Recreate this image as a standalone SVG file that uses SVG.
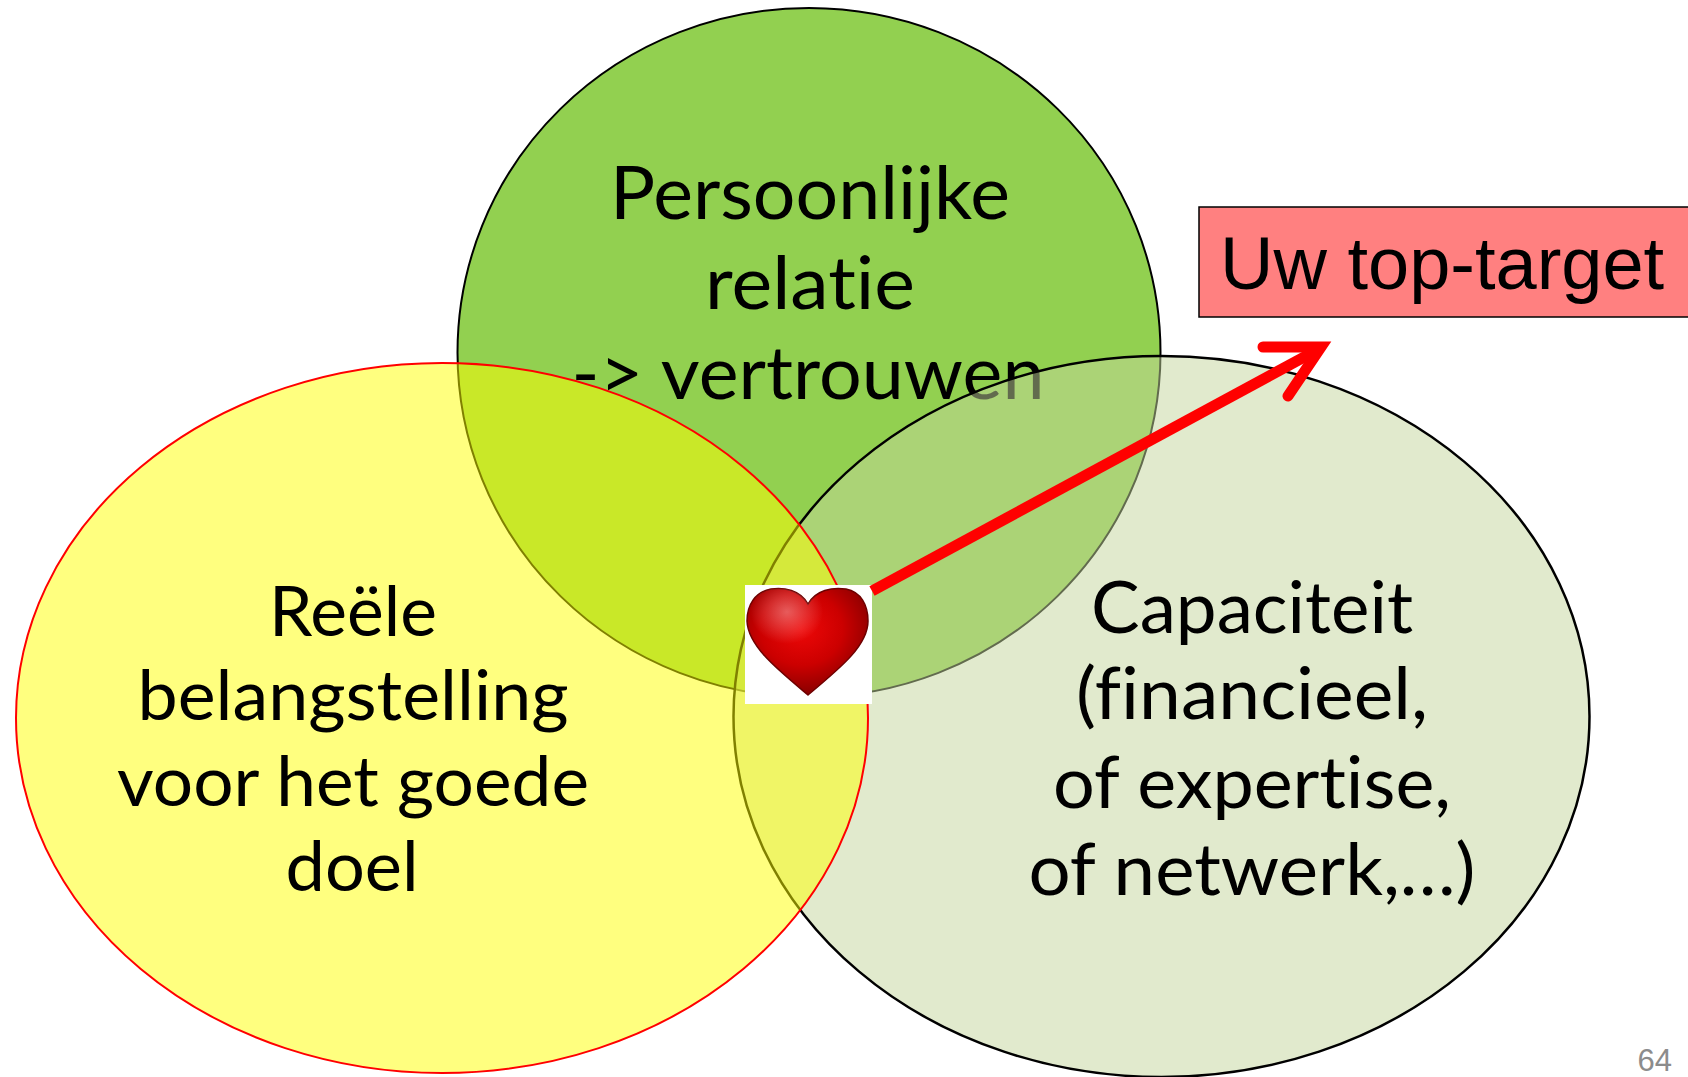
<svg xmlns="http://www.w3.org/2000/svg" width="1688" height="1077" viewBox="0 0 1688 1077">
  <style>
    .lbl { font-family: Lato, "Open Sans", "Liberation Sans", sans-serif; fill: #000; text-anchor: middle; font-variant-ligatures: none; font-feature-settings: "liga" 0, "clig" 0; }
    .t { font-size: 73px; }
    .l { font-size: 69px; }
    .r { font-size: 71px; }
    .tgt { font-family: "Liberation Sans", Arial, sans-serif; font-size: 74px; fill: #000; }
    .pg { font-family: "Liberation Sans", Arial, sans-serif; font-size: 31px; fill: #8C8C8C; text-anchor: end; }
  </style>
  <defs>
    <radialGradient id="heartGrad" cx="0.45" cy="0.38" r="0.68">
      <stop offset="0" stop-color="#EE0808"/>
      <stop offset="0.5" stop-color="#CC0000"/>
      <stop offset="1" stop-color="#7A0000"/>
    </radialGradient>
    <radialGradient id="heartShine" cx="0.33" cy="0.22" r="0.3">
      <stop offset="0" stop-color="#FFFFFF" stop-opacity="0.35"/>
      <stop offset="1" stop-color="#FFFFFF" stop-opacity="0"/>
    </radialGradient>
  </defs>
  <rect width="1688" height="1077" fill="#FFFFFF"/>

  <g id="node-top">
    <ellipse cx="809" cy="352.5" rx="351.5" ry="344.5" fill="#92D050" stroke="#000" stroke-width="2"/>
    <text class="lbl t" x="810" y="219" textLength="400" lengthAdjust="spacingAndGlyphs">Persoonlijke</text>
    <text class="lbl t" x="810" y="309" textLength="210" lengthAdjust="spacingAndGlyphs">relatie</text>
    <text class="lbl t" x="808" y="399" textLength="473" lengthAdjust="spacingAndGlyphs">-&gt; vertrouwen</text>
  </g>

  <g id="node-right">
    <ellipse cx="1161.5" cy="716.5" rx="428" ry="360.5" fill="#C3D69B" fill-opacity="0.5" stroke="#000" stroke-width="2.5"/>
    <text class="lbl r" x="1252" y="633" textLength="322" lengthAdjust="spacingAndGlyphs">Capaciteit</text>
    <text class="lbl r" x="1252" y="719" textLength="352" lengthAdjust="spacingAndGlyphs">(financieel,</text>
    <text class="lbl r" x="1252" y="808" textLength="398" lengthAdjust="spacingAndGlyphs">of expertise,</text>
    <text class="lbl r" x="1252" y="895" textLength="447" lengthAdjust="spacingAndGlyphs">of netwerk,…)</text>
  </g>

  <g id="node-left">
    <ellipse cx="442" cy="718" rx="426" ry="355" fill="#FFFF00" fill-opacity="0.5" stroke="#FF0000" stroke-width="2"/>
    <text class="lbl l" x="353" y="636" textLength="168" lengthAdjust="spacingAndGlyphs">Reële</text>
    <text class="lbl l" x="353" y="720" textLength="431" lengthAdjust="spacingAndGlyphs">belangstelling</text>
    <text class="lbl l" x="353" y="806" textLength="472" lengthAdjust="spacingAndGlyphs">voor het goede</text>
    <text class="lbl l" x="352" y="891" textLength="133" lengthAdjust="spacingAndGlyphs">doel</text>
  </g>

  <g id="node-heart">
    <rect x="745" y="585" width="127" height="119" fill="#FFFFFF"/>
    <path d="M808,604 C800,590 784,587 771,589 C755,592 747,605 747,621 C748,646 777,669 808,695 C839,669 868,646 868,621 C868,605 861,592 846,589 C832,587 816,590 808,604 Z" fill="url(#heartGrad)" stroke="#6E0000" stroke-width="1.5"/>
    <path d="M808,604 C800,590 784,587 771,589 C755,592 747,605 747,621 C748,646 777,669 808,695 C839,669 868,646 868,621 C868,605 861,592 846,589 C832,587 816,590 808,604 Z" fill="url(#heartShine)"/>
  </g>

  <g id="connectors">
    <path d="M872,591 L1319,349" fill="none" stroke="#FF0000" stroke-width="11" stroke-linecap="butt"/>
    <path d="M1263,347 L1321,347 L1288,396" fill="none" stroke="#FF0000" stroke-width="11" stroke-linecap="round" stroke-linejoin="miter"/>
  </g>

  <g id="node-target">
    <rect x="1199" y="207" width="500" height="110" fill="#FF8080" stroke="#000" stroke-width="1.5"/>
    <text class="tgt" x="1220" y="289">Uw top-target</text>
  </g>

  <text class="pg" x="1672" y="1071">64</text>
</svg>
